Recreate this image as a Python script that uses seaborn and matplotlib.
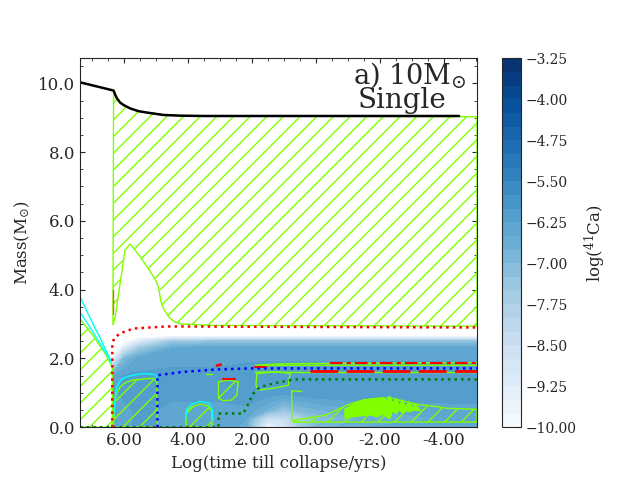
"""
Kippenhahn-style diagram for a 10 Msun single star with log(41Ca) shading.
"""
import numpy as np
import matplotlib
matplotlib.use("Agg")
import matplotlib.pyplot as plt
import seaborn as sns

# --- total mass ---
mass_x = [7.38, 6.9, 6.33, 6.28, 6.23, 6.125, 6.02, 5.81, 5.55, 5.29, 4.77, 4.25, 3.5, -4.47]
mass_m = [10.03, 9.92, 9.79, 9.67, 9.57, 9.44, 9.37, 9.27, 9.19, 9.15, 9.08, 9.06, 9.05, 9.05]

# --- 41Ca abundance field (log), read on a coarse grid ---
ca_x = [7.38, 6.38, 6.36, 6.0, 5.5, 4.5, 3.0, 2.2, 1.5, 1.0, 0.6, 0.0, -1.5, -5.03]
ca_m = [0.0, 0.25, 0.5, 1.0, 1.5, 2.0, 2.3, 2.5, 2.7, 3.0]
ca_rows = [
    [-11, -11, -6.3, -6.3, -6.2, -6.3, -6.3, -6.6, -9.8, -9.0, -7.6, -6.9, -6.5, -6.3],
    [-11, -11, -6.3, -6.3, -6.2, -6.3, -6.3, -6.5, -8.6, -8.4, -8.0, -7.3, -6.7, -6.4],
    [-11, -11, -6.3, -6.3, -6.2, -6.3, -6.3, -6.3, -6.8, -7.4, -7.0, -6.8, -6.5, -6.4],
    [-11, -11, -6.3, -6.2, -6.1, -6.2, -6.2, -6.1, -6.1, -6.1, -6.1, -6.0, -6.0, -6.0],
    [-11, -11, -6.5, -6.2, -6.2, -6.2, -6.2, -6.1, -6.0, -6.0, -6.0, -6.0, -6.0, -6.0],
    [-11, -11, -9.5, -7.0, -6.4, -6.3, -6.3, -6.3, -6.3, -6.3, -6.3, -6.3, -6.3, -6.3],
    [-11, -11, -11, -9.0, -7.5, -6.5, -6.4, -6.4, -6.4, -6.4, -6.4, -6.4, -6.4, -6.4],
    [-11, -11, -11, -10.5, -9.0, -7.5, -7.3, -7.3, -7.3, -7.3, -7.3, -7.3, -7.3, -7.3],
    [-11, -11, -11, -11, -11, -11, -11, -11, -11, -11, -11, -11, -11, -11],
    [-11, -11, -11, -11, -11, -11, -11, -11, -11, -11, -11, -11, -11, -11],
]

# --- convective zones (hatched) ---
env_top_x = mass_x[2:-1] + [-5.03]
env_top_m = mass_m[2:-1] + [9.03]
env_bot_x = [6.35, 6.28, 6.125, 5.97, 5.81, 5.5, 5.2, 5.0, 4.92, 4.85, 4.75, 4.6,
             4.45, 4.25, 3.21, -5.03]
env_bot_m = [2.97, 3.21, 4.19, 5.16, 5.33, 4.96, 4.55, 4.25, 4.05, 3.65, 3.42, 3.2,
             3.08, 3.0, 2.96, 2.94]

hcore_x = [7.6, 7.38, 7.0, 6.6, 6.4, 6.37, 6.37, 7.6]
hcore_m = [3.4, 3.15, 2.7, 2.15, 1.8, 1.75, 0.0, 0.0]

hecore_x = [6.34, 6.28, 6.125, 5.95, 5.71, 5.3, 5.08, 4.98, 4.97]
hecore_m = [0.0, 0.88, 1.17, 1.30, 1.37, 1.41, 1.42, 1.32, 0.0]

cshell_x = [4.06, 4.06, 3.94, 3.63, 3.37, 3.26, 3.26]
cshell_m = [0.0, 0.45, 0.57, 0.67, 0.61, 0.45, 0.0]

blob_a_x = [3.05, 2.74, 2.43, 2.48, 2.64, 2.9, 3.05]
blob_a_m = [1.32, 1.37, 1.32, 0.93, 0.79, 0.77, 0.84]

blob_b_x = [1.85, 1.6, 1.33, 0.81, 0.87, 1.28, 1.8, 1.88]
blob_b_m = [1.56, 1.58, 1.61, 1.57, 1.22, 1.14, 1.08, 1.22]

# late shell zone (bottom right) and its dense noisy part
late_x = [0.72, -0.3, -0.96, -1.5, -2.3, -3.25, -3.77, -4.1, -5.03]
late_top = [0.20, 0.35, 0.64, 0.80, 0.85, 0.65, 0.60, 0.55, 0.52]
late_bot = 0.15
noise_x = [-0.9, -1.1, -1.3, -1.5, -1.7, -1.9, -2.1, -2.2, -2.3, -2.4, -2.5, -2.6,
           -2.7, -2.8, -2.9, -3.0, -3.1, -3.25]
noise_top = [0.52, 0.64, 0.72, 0.78, 0.82, 0.84, 0.86, 0.76, 0.90, 0.70, 0.84, 0.62,
             0.80, 0.58, 0.74, 0.55, 0.68, 0.50]
noise_low = [0.26, 0.30, 0.32, 0.34, 0.36, 0.30, 0.38, 0.30, 0.25, 0.48, 0.40, 0.50,
             0.42, 0.48, 0.45, 0.48, 0.50, 0.48]

# --- cyan boundaries ---
cyan1_x = [7.6, 7.38, 7.0, 6.7, 6.45, 6.4]
cyan1_m = [4.1, 3.8, 3.05, 2.5, 2.0, 1.85]
cyan2_x = [7.38, 7.1, 6.8, 6.5, 6.42]
cyan2_m = [3.35, 2.95, 2.5, 2.05, 1.9]
cyan_dome_x = [6.33, 6.3, 6.23, 6.1, 5.92, 5.6, 5.4, 5.03, 4.98, 4.96]
cyan_dome_m = [0.3, 0.69, 1.17, 1.38, 1.47, 1.53, 1.56, 1.53, 1.45, 1.3]
cyan_c_x = [4.08, 4.05, 3.9, 3.63, 3.35, 3.24, 3.22]
cyan_c_m = [0.2, 0.5, 0.66, 0.75, 0.70, 0.5, 0.2]

# --- core boundaries ---
he_x = [6.37, 6.37, 6.3, 6.125, 5.71, 4.67, -5.03]
he_m = [0.0, 2.45, 2.6, 2.73, 2.87, 2.93, 2.90]
co_x = [4.96, 4.96, 4.15, 3.1, 2.06, -5.03]
co_m = [0.0, 1.51, 1.61, 1.68, 1.71, 1.71]
fe_x = [7.38, 3.05, 3.05, 2.27, 1.96, 1.75, 1.33, 0.71, -5.03]
fe_m = [0.0, 0.0, 0.4, 0.4, 0.98, 1.17, 1.27, 1.39, 1.39]

# --- thin shells, top right ---
shell_x = [1.9, 1.2, 0.5, -5.03]
shell_top_m = [1.80, 1.84, 1.85, 1.88]
shell_mid_m = [1.78, 1.80, 1.80, 1.80]
shell_bot_m = [1.60, 1.60, 1.59, 1.59]
burn_top_x = [-0.44, -5.03]
burn_top_m = [1.88, 1.88]
burn_bot_x = [0.19, -5.03]
burn_bot_m = [1.63, 1.63]

cb_levels = np.arange(-10.0, -3.24, 0.25)
cb_ticks = np.arange(-10.0, -3.24, 0.75)

GREEN = "#7FFF00"

sns.set_style("ticks", {"xtick.direction": "in", "ytick.direction": "in"})
plt.rcParams["font.family"] = ["DejaVu Serif"]
plt.rcParams["mathtext.fontset"] = "dejavuserif"
plt.rcParams["hatch.color"] = GREEN
plt.rcParams["hatch.linewidth"] = 1.0

fig = plt.figure(figsize=(6.4, 4.8), dpi=100)
ax = fig.add_axes([0.125, 0.11, 0.6203, 0.7687])
cax = fig.add_axes([0.7844, 0.11, 0.0297, 0.7687])

# abundance shading
cs = ax.contourf(ca_x, ca_m, np.array(ca_rows), levels=cb_levels, cmap="Blues")

# hatched convective zones
def hatch_zone(xs, ms):
    ax.fill(xs, ms, facecolor="none", edgecolor=GREEN, hatch="//", linewidth=1.0)

hatch_zone(env_top_x + env_bot_x[::-1], env_top_m + env_bot_m[::-1])
hatch_zone(hcore_x, hcore_m)
hatch_zone(hecore_x, hecore_m)
hatch_zone(cshell_x, cshell_m)
hatch_zone(blob_a_x, blob_a_m)
ax.fill(blob_b_x, blob_b_m, facecolor="none", edgecolor=GREEN, linewidth=1.0)
hatch_zone(late_x + late_x[::-1], late_top + [late_bot] * len(late_x))
ax.fill(noise_x + noise_x[::-1], noise_top + noise_low[::-1], color=GREEN, lw=1.0)
ax.plot([0.76, 0.76, 0.45], [0.2, 1.06, 1.04], color=GREEN, lw=1.0)

# cyan boundaries
for cx, cm in [(cyan1_x, cyan1_m), (cyan2_x, cyan2_m),
               (cyan_dome_x, cyan_dome_m), (cyan_c_x, cyan_c_m)]:
    ax.plot(cx, cm, color="cyan", lw=1.0)

# thin shells
ax.plot(shell_x, shell_top_m, color=GREEN, lw=1.0)
ax.plot(shell_x, shell_mid_m, color=GREEN, lw=1.0)
ax.plot(shell_x, shell_bot_m, color=GREEN, lw=1.0)
ax.plot(burn_top_x, burn_top_m, color="red", lw=1.5, ls=(0, (6, 2, 2, 2)))
ax.plot(burn_bot_x, burn_bot_m, color="red", lw=2.0, ls=(0, (10, 3)))
ax.plot([1.9, 1.55], [1.76, 1.76], color="red", lw=1.5)
ax.plot([2.9, 2.55], [1.39, 1.39], color="red", lw=1.5)
ax.plot([3.1, 2.98], [1.79, 1.82], color="red", lw=2.0)
ax.plot([3.45, 3.25], [1.56, 1.56], color=GREEN, lw=1.0)
ax.plot([6.35, 6.35], [3.3, 4.0], color="red", lw=1.0, alpha=0.6)

# core boundaries
sns.lineplot(x=he_x, y=he_m, sort=False, estimator=None, ax=ax,
             color="red", lw=1.8, linestyle=":")
sns.lineplot(x=co_x, y=co_m, sort=False, estimator=None, ax=ax,
             color="blue", lw=1.8, linestyle=":")
sns.lineplot(x=fe_x, y=fe_m, sort=False, estimator=None, ax=ax,
             color="green", lw=1.8, linestyle=":")

# total mass
sns.lineplot(x=mass_x, y=mass_m, sort=False, estimator=None, ax=ax,
             color="black", lw=1.8)

ax.set_xlim(7.38, -5.03)
ax.set_ylim(0, 10.73)
ax.set_xticks([6, 4, 2, 0, -2, -4])
ax.set_yticks([0, 2, 4, 6, 8, 10])
ax.xaxis.set_major_formatter(matplotlib.ticker.FormatStrFormatter("%.2f"))
ax.yaxis.set_major_formatter(matplotlib.ticker.FormatStrFormatter("%.1f"))
ax.xaxis.set_minor_locator(matplotlib.ticker.MultipleLocator(0.5))
ax.yaxis.set_minor_locator(matplotlib.ticker.MultipleLocator(0.5))
ax.tick_params(which="both", direction="in", top=True, right=True, labelsize=12)
ax.set_xlabel("Log(time till collapse/yrs)", fontsize=12)
ax.set_ylabel(r"Mass(M$_{\odot}$)", fontsize=12)

ax.text(0.975, 0.955, r"a) 10M$_{\odot}$", transform=ax.transAxes,
        ha="right", va="center", fontsize=19.5)
ax.text(0.81, 0.885, "Single", transform=ax.transAxes,
        ha="center", va="center", fontsize=20)

cb = fig.colorbar(cs, cax=cax, ticks=cb_ticks)
cb.ax.yaxis.set_major_formatter(
    matplotlib.ticker.FuncFormatter(lambda v, p: f"{v:.2f}".replace("-", "\u2212")))
cb.ax.tick_params(labelsize=10)
cb.set_label(r"log($^{41}$Ca)", fontsize=12)

fig.savefig("out.png", dpi=100)
